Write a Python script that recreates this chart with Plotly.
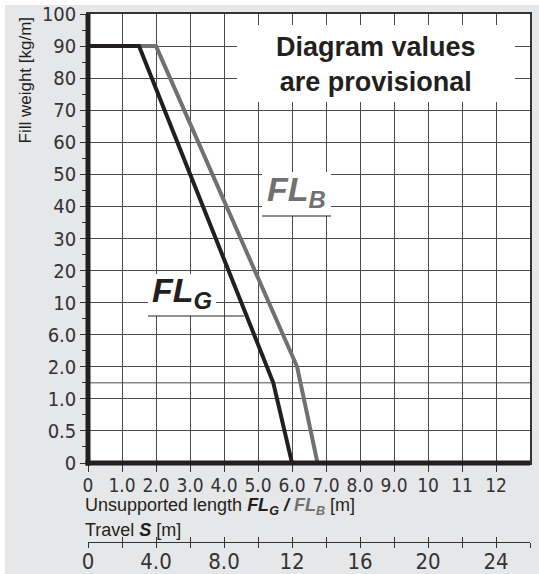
import numpy as np
import plotly.graph_objects as go

# ---------------- data ----------------
fill_tick_values = [0, 0.5, 1.0, 2.0, 6.0, 10, 20, 30, 40, 50, 60, 70, 80, 90, 100]
fill_tick_labels = ["0", "0.5", "1.0", "2.0", "6.0", "10", "20", "30", "40",
                    "50", "60", "70", "80", "90", "100"]
extra_grid_weight = 1.5

length_ticks = list(range(0, 13))
length_labels = ["0", "1.0", "2.0", "3.0", "4.0", "5.0", "6.0", "7.0", "8.0",
                 "9.0", "10", "11", "12"]
length_max = 13

travel_label_ticks = [0, 4, 8, 12, 16, 20, 24]
travel_labels = ["0", "4.0", "8.0", "12", "16", "20", "24"]
travel_minor_ticks = [2, 6, 10, 14, 18, 22, 26]

flg_length = [0, 1.5, 5.45, 6.0]
flg_weight = [90, 90, 1.5, 0]
flb_length = [0, 2.0, 6.15, 6.75]
flb_weight = [90, 90, 2.0, 0]

# ---------------- scale (piecewise label scale) ----------------
idx = list(range(len(fill_tick_values)))


def wscale(w):
    return np.interp(w, fill_tick_values, idx)


BLACK = "#231f20"
GRAY = "#717171"
PANEL = "#e6e7e8"
GRID = "#4a4a4a"
TICKC = "#333333"
NARROW = "DejaVu Sans Condensed, Liberation Sans Narrow, Liberation Sans, Arial"
SANS = "Liberation Sans, Arial, Helvetica, sans-serif"

W, H = 539, 574
ML, MR, MT, MB = 88, 9, 14, 32
PW, PH = W - ML - MR, H - MT - MB
Y0PX = 463


def xp(px):
    return (px - ML) / PW


def yp(py):
    return (H - MB - py) / PH


fig = go.Figure()
# extra grid line at 1.5 kg/m
gy = float(wscale(extra_grid_weight))
fig.add_trace(go.Scatter(x=[0, length_max], y=[gy, gy], mode="lines",
                         line=dict(color=GRID, width=1), hoverinfo="skip",
                         showlegend=False, cliponaxis=True))
fig.add_trace(go.Scatter(x=flb_length, y=wscale(flb_weight), mode="lines",
                         line=dict(color=GRAY, width=4), hoverinfo="skip",
                         showlegend=False))
fig.add_trace(go.Scatter(x=flg_length, y=wscale(flg_weight), mode="lines",
                         line=dict(color=BLACK, width=4), hoverinfo="skip",
                         showlegend=False))
# dummy traces so the travel axes exist
fig.add_trace(go.Scatter(x=[0], y=[0], xaxis="x2", yaxis="y", mode="markers",
                         marker=dict(opacity=0), hoverinfo="skip", showlegend=False))
fig.add_trace(go.Scatter(x=[0], y=[0], xaxis="x3", yaxis="y", mode="markers",
                         marker=dict(opacity=0), hoverinfo="skip", showlegend=False))

ydom0 = yp(Y0PX)

fig.update_layout(
    width=W, height=H,
    margin=dict(l=ML, r=MR, t=MT, b=MB, pad=0),
    paper_bgcolor=PANEL, plot_bgcolor="white",
    showlegend=False,
    xaxis=dict(range=[0, length_max], tickmode="array", tickvals=length_ticks,
               ticktext=length_labels, ticks="outside", ticklen=7, tickwidth=1,
               tickcolor=TICKC, showgrid=True, gridcolor=GRID, gridwidth=1,
               showline=True, mirror=True, linecolor="#333333", linewidth=1.5,
               zeroline=False, tickfont=dict(family=NARROW, size=19, color=TICKC),
               ticklabelstandoff=-3,
               fixedrange=True, automargin=False),
    yaxis=dict(range=[0, 14], domain=[ydom0, 1], tickmode="array",
               tickvals=idx, ticktext=fill_tick_labels, ticks="outside",
               ticklen=6, tickwidth=1, tickcolor=TICKC,
               minor=dict(tickvals=[i + 0.5 for i in idx[:-1]], ticks="outside",
                          ticklen=4, tickwidth=1, tickcolor=TICKC, showgrid=False),
               showgrid=True, gridcolor=GRID, gridwidth=1,
               showline=True, mirror=True, linecolor="#333333", linewidth=1.5,
               zeroline=False, tickfont=dict(family=NARROW, size=20, color=TICKC),
               fixedrange=True, automargin=False),
    xaxis2=dict(range=[0, 26], overlaying="x", anchor="free", position=0,
                side="bottom", tickmode="array", tickvals=travel_label_ticks,
                ticktext=travel_labels, ticks="outside", ticklen=5, tickwidth=1,
                tickcolor=TICKC,
                minor=dict(tickvals=travel_minor_ticks, ticks="outside", ticklen=5,
                           tickwidth=1, tickcolor=TICKC, showgrid=False),
                showgrid=False, showline=True,
                linecolor="#333333", linewidth=1, zeroline=False,
                tickfont=dict(family=NARROW, size=22, color=TICKC),
                ticklabelstandoff=-5,
                fixedrange=True, automargin=False),
    xaxis3=dict(range=[0, 26], overlaying="x", anchor="free", position=0,
                side="bottom", tickmode="array",
                tickvals=sorted(travel_label_ticks + travel_minor_ticks),
                ticks="inside", ticklen=5, tickwidth=1, tickcolor=TICKC,
                showticklabels=False, showgrid=False, showline=False,
                zeroline=False, fixedrange=True, automargin=False),
)

shapes = []
# white strips at top and left of the page
shapes.append(dict(type="rect", xref="paper", yref="paper", x0=xp(0), x1=xp(W),
                   y0=yp(5), y1=yp(0), fillcolor="white", line=dict(width=0),
                   layer="below"))
shapes.append(dict(type="rect", xref="paper", yref="paper", x0=xp(0), x1=xp(5),
                   y0=yp(H), y1=yp(0), fillcolor="white", line=dict(width=0),
                   layer="below"))
# white boxes
for (a, b, c, d) in [(237, 515, 25, 102), (262, 331, 172, 216), (148, 216, 274, 316)]:
    shapes.append(dict(type="rect", xref="paper", yref="paper", x0=xp(a), x1=xp(b),
                       y0=yp(d), y1=yp(c), fillcolor="white", line=dict(width=0),
                       layer="above"))
# underlines
shapes.append(dict(type="line", xref="paper", yref="paper", x0=xp(262), x1=xp(331),
                   y0=yp(216), y1=yp(216), line=dict(color=BLACK, width=1), layer="above"))
shapes.append(dict(type="line", xref="paper", yref="paper", x0=xp(148), x1=xp(244),
                   y0=yp(316), y1=yp(316), line=dict(color=BLACK, width=1), layer="above"))
# thick left and bottom axis lines
shapes.append(dict(type="line", xref="paper", yref="paper", x0=xp(85.5), x1=1,
                   y0=yp(Y0PX), y1=yp(Y0PX), line=dict(color=BLACK, width=5),
                   layer="above"))
shapes.append(dict(type="line", xref="paper", yref="paper", x0=xp(88), x1=xp(88),
                   y0=yp(Y0PX + 2.5), y1=1, line=dict(color=BLACK, width=5),
                   layer="above"))
fig.update_layout(shapes=shapes)

annotations = [
    dict(text="<b>Diagram values<br>are provisional</b>", xref="paper", yref="paper",
         x=xp(376), y=yp(64), xanchor="center", yanchor="middle", showarrow=False,
         font=dict(family=SANS, size=27, color=BLACK), align="center"),
    dict(text="<b><i>FL<sub>G</sub></i></b>", xref="paper", yref="paper",
         x=xp(182), y=yp(293), xanchor="center", yanchor="middle", showarrow=False,
         font=dict(family=SANS, size=34, color=BLACK)),
    dict(text="<b><i>FL<sub>B</sub></i></b>", xref="paper", yref="paper",
         x=xp(296), y=yp(191), xanchor="center", yanchor="middle", showarrow=False,
         font=dict(family=SANS, size=34, color=GRAY)),
    dict(text="Fill weight [kg/m]", xref="paper", yref="paper", textangle=-90,
         x=xp(25), y=yp(15), xanchor="center", yanchor="top", showarrow=False,
         font=dict(family=SANS, size=17, color=BLACK)),
    dict(text="Unsupported length <b><i>FL<sub>G</sub> / </i></b>"
              "<span style='color:%s'><b><i>FL<sub>B</sub></i></b></span> [m]" % GRAY,
         xref="paper", yref="paper", x=xp(83), y=yp(506), xanchor="left",
         yanchor="middle", showarrow=False,
         font=dict(family=SANS, size=18, color=BLACK)),
    dict(text="Travel <b><i>S</i></b> [m]", xref="paper", yref="paper",
         x=xp(83), y=yp(530), xanchor="left", yanchor="middle", showarrow=False,
         font=dict(family=SANS, size=18, color=BLACK)),
]
fig.update_layout(annotations=annotations)

fig.write_html("out.html", config={"displayModeBar": False},
               post_script="document.body.style.margin='0';")
